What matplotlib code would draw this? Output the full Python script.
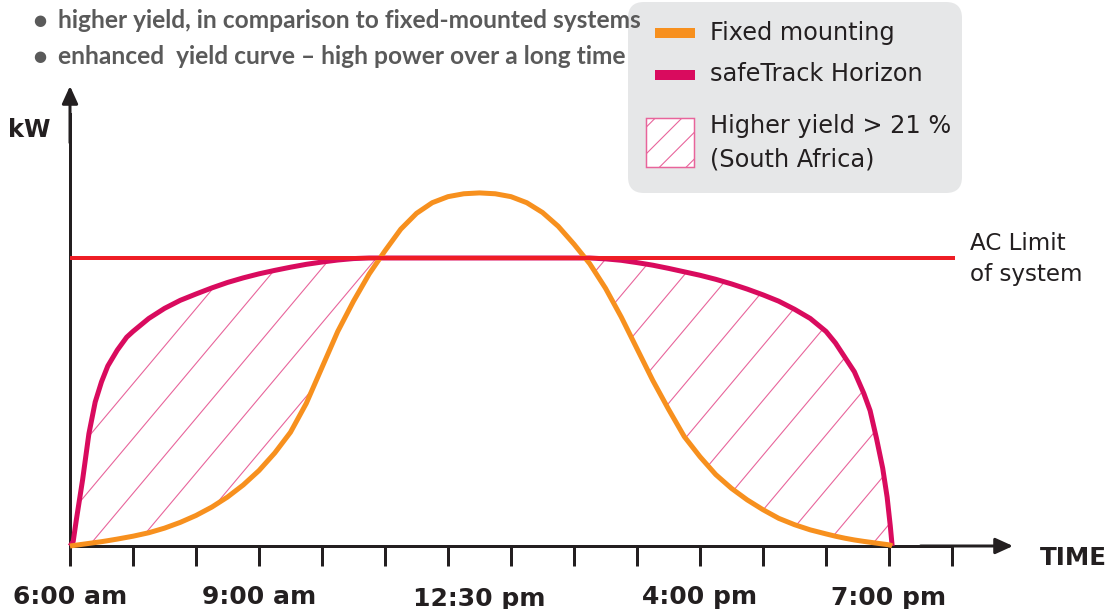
import matplotlib
matplotlib.use("Agg")
import matplotlib.pyplot as plt
from matplotlib.patches import FancyBboxPatch, Rectangle, PathPatch
from matplotlib.collections import LineCollection
import numpy as np

# ---------------- data ----------------
hours = [0, 0.05, 0.1, 0.15, 0.2, 0.3, 0.4, 0.5, 0.6, 0.75, 0.9, 1.0,
         1.25, 1.5, 1.75, 2.0, 2.25, 2.5, 2.75, 3.0, 3.25, 3.5, 3.75, 4.0,
         4.25, 4.5, 4.75, 5.0, 5.25, 5.5, 5.75, 6.0, 6.25, 6.5, 6.75, 7.0,
         7.25, 7.5, 7.75, 8.0, 8.25, 8.5, 8.75, 9.0, 9.25, 9.5, 9.75, 10.0,
         10.25, 10.5, 10.75, 11.0, 11.25, 11.5, 11.75, 12.0, 12.15, 12.3, 12.45, 12.6,
         12.7, 12.8, 12.9, 12.97, 13.02, 13.05]
fixed_mounting = [0.0, 0.15, 0.3, 0.45, 0.6, 0.9, 1.2, 1.5, 1.85, 2.4, 3.0, 3.4,
                  4.6, 6.2, 8.2, 10.6, 13.5, 17.0, 21.2, 26.2, 32.3, 39.5, 49.5, 62.0,
                  74.5, 85.0, 94.5, 102.5, 110.0, 115.5, 119.2, 121.3, 122.3, 122.6, 122.3, 121.3,
                  119.2, 115.8, 111.0, 104.8, 98.0, 89.5, 79.5, 68.5, 57.5, 47.5, 38.0, 31.0,
                  24.8, 20.0, 16.0, 12.6, 9.6, 7.4, 5.6, 4.2, 3.4, 2.7, 2.1, 1.6,
                  1.3, 1.0, 0.7, 0.5, 0.3, 0.0]
safetrack = [0.0, 1.5, 9.0, 16.0, 23.0, 39.0, 50.0, 57.0, 62.5, 68.0, 72.5, 74.5,
             79.0, 82.5, 85.3, 87.5, 89.6, 91.5, 93.1, 94.5, 95.7, 96.8, 97.8, 98.6,
             99.3, 99.8, 100.0, 100.0, 100.0, 100.0, 100.0, 100.0, 100.0, 100.0, 100.0, 100.0,
             100.0, 100.0, 100.0, 100.0, 100.0, 99.7, 99.2, 98.4, 97.5, 96.4, 95.2, 94.0,
             92.6, 91.0, 89.2, 87.2, 85.0, 82.2, 79.0, 74.5, 70.5, 65.5, 60.5, 53.0,
             47.0, 37.5, 27.0, 17.0, 7.0, 0.0]
ac_limit = 100.0
tick_hours = list(range(15))
label_hours = [0, 3, 6.5, 10, 13]
label_texts = ["6:00 am", "9:00 am", "12:30 pm", "4:00 pm", "7:00 pm"]
bullets = ["higher yield, in comparison to fixed-mounted systems",
           "enhanced  yield curve \u2013 high power over a long time"]
legend_labels = ["Fixed mounting", "safeTrack Horizon", "Higher yield > 21 %\n(South Africa)"]

# ---------------- style ----------------
DPI = 240
W, H = 1115, 609
PT = 72.0 / DPI          # points per pixel
ORANGE = "#f7901e"
PINK = "#d90b5e"
HATCH = "#e8649b"
RED = "#ee1d25"
DARK = "#231f20"
GREY = "#5a5a5a"
LEGBG = "#e6e7e8"

plt.rcParams["hatch.linewidth"] = 1.1 * PT
plt.rcParams["font.family"] = ["DejaVu Sans"]

fig = plt.figure(figsize=((W + 0.01) / DPI, (H + 0.01) / DPI), dpi=DPI)
ax = fig.add_axes([0, 0, 1, 1])

X0, Y0 = 70, 546       # pixel position of origin
PX, PY = 63.0, 2.88    # pixels per hour / per kW unit
ax.set_xlim(-X0 / PX, (W - X0) / PX)
ax.set_ylim(-(H - Y0) / PY, Y0 / PY)

for s in ["top", "right"]:
    ax.spines[s].set_visible(False)
ax.spines["bottom"].set_position(("data", 0))
ax.spines["left"].set_position(("data", 0))
ax.spines["bottom"].set_bounds(0, 14)
ax.spines["left"].set_bounds(0, 150)
for s in ["bottom", "left"]:
    ax.spines[s].set_linewidth(3 * PT)
    ax.spines[s].set_color(DARK)
ax.set_xticks(tick_hours)
ax.set_yticks([])
ax.tick_params(axis="x", direction="out", length=20 * PT, width=3 * PT,
               color=DARK, labelbottom=False)

arrow_kw = dict(arrowstyle="-|>,head_length=0.55,head_width=0.25",
                lw=3 * PT, color=DARK, shrinkA=0, shrinkB=0, mutation_scale=8)
ax.annotate("", xy=((1013 - X0) / PX, 0), xytext=(13.5, 0), arrowprops=arrow_kw)
ax.annotate("", xy=(0, (Y0 - 86) / PY), xytext=(0, 140), arrowprops=arrow_kw)

h = np.array(hours)
f = np.array(fixed_mounting)
t = np.array(safetrack)

# region of higher yield, hatched with thin diagonal lines clipped to it
region = ax.fill_between(h, f, t, where=t >= f, interpolate=True,
                         facecolor="none", edgecolor="none", zorder=2)
spacing, angle = 46.0, np.deg2rad(50)
offs = np.arange(-700, W + spacing, spacing)
segs = [[(c / DPI, 0), ((c + H / np.tan(angle)) / DPI, H / DPI)] for c in offs]
for p in region.get_paths():
    clip = PathPatch(p, transform=ax.transData, facecolor="none", edgecolor="none")
    ax.add_patch(clip)
    lc = LineCollection(segs, colors=HATCH, linewidths=1.1 * PT,
                        transform=fig.dpi_scale_trans, zorder=2)
    lc.set_clip_path(clip)
    ax.add_collection(lc, autolim=False)

ax.plot(h, t, color=PINK, lw=5 * PT, zorder=3, solid_capstyle="butt",
        solid_joinstyle="round")
ax.plot(h, f, color=ORANGE, lw=5 * PT, zorder=4, solid_capstyle="butt",
        solid_joinstyle="round")
ax.hlines(ac_limit, 0, (955 - X0) / PX, color=RED, lw=4 * PT, zorder=5)

# tick labels
label_base = [604, 604, 606, 604, 605]
for xh, txt, by in zip(label_hours, label_texts, label_base):
    ax.text(xh, (Y0 - by) / PY, txt, ha="center", va="baseline",
            fontsize=25 * PT, fontweight="bold", color=DARK)

ax.text(1073 / W, 1 - 558 / H, "TIME", transform=ax.transAxes, ha="center",
        va="center", fontsize=24.5 * PT, fontweight="bold", color=DARK)
ax.text(29 / W, 1 - 130 / H, "kW", transform=ax.transAxes, ha="center",
        va="center", fontsize=24 * PT, fontweight="bold", color=DARK)
ax.text(970 / W, 1 - 259 / H, "AC Limit\nof system", transform=ax.transAxes,
        ha="left", va="center", fontsize=23 * PT, color=DARK, linespacing=1.4)

# legend box
def inch(px, py):
    return (px / DPI, (H - py) / DPI)

box = FancyBboxPatch(inch(628, 193), (962 - 628) / DPI, (193 - 2) / DPI,
                     boxstyle="round,pad=0,rounding_size=%f" % (16 / DPI),
                     transform=fig.dpi_scale_trans, facecolor=LEGBG,
                     edgecolor="none", zorder=6)
ax.add_patch(box)
ax.add_patch(Rectangle(inch(655, 38), 40 / DPI, 10 / DPI, transform=fig.dpi_scale_trans,
                       facecolor=ORANGE, edgecolor="none", zorder=7))
ax.add_patch(Rectangle(inch(655, 80), 40 / DPI, 10 / DPI, transform=fig.dpi_scale_trans,
                       facecolor=PINK, edgecolor="none", zorder=7))
ax.add_patch(Rectangle(inch(646, 167), 48 / DPI, 49 / DPI, transform=fig.dpi_scale_trans,
                       facecolor="white", edgecolor=HATCH, lw=1.5 * PT, hatch="///",
                       zorder=7))
for txt, y in zip(legend_labels, [33, 74, 143]):
    ax.text(710 / W, 1 - y / H, txt, transform=ax.transAxes, ha="left", va="center",
            fontsize=24 * PT, color=DARK, zorder=8, linespacing=1.5)

# bullets
for txt, y in zip(bullets, [20, 56]):
    ax.text(40 / W, 1 - y / H, "\u25cf", transform=ax.transAxes, ha="center",
            va="center", fontsize=15 * PT, color=GREY, zorder=9)
    ax.text(58 / W, 1 - y / H, txt, transform=ax.transAxes, ha="left", va="center",
            fontsize=24.5 * PT, fontweight="bold", color=GREY, zorder=9,
            family=["Lato", "DejaVu Sans"])

fig.savefig("out.png", dpi=DPI)
